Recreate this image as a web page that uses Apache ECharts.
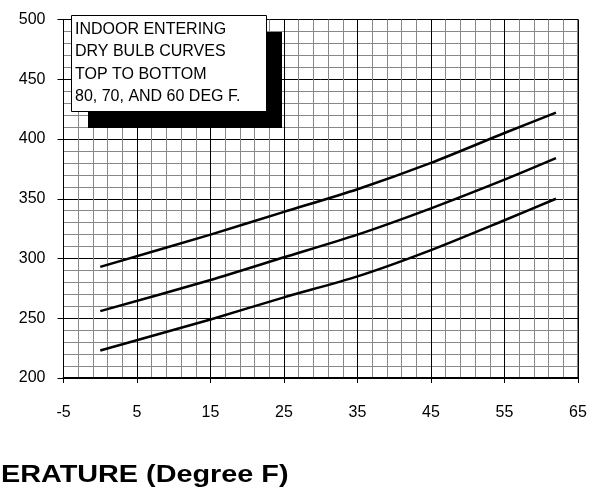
<!DOCTYPE html>
<html>
<head>
<meta charset="utf-8">
<script src="https://cdn.jsdelivr.net/npm/echarts@6/dist/echarts.min.js"></script>
<style>
  html, body { margin: 0; padding: 0; background: #fff; }
  #chart { width: 602px; height: 495px; }
</style>
</head>
<body>
<div id="chart"></div>
<script>
// outdoor temperature (deg F) at the read points
const tempF = [0, 15, 25, 35, 45, 55, 62]
// curves for indoor entering dry bulb 80 / 70 / 60 deg F
const db80 = [293, 320, 339, 358, 380, 405, 422]
const db70 = [256, 282, 301, 320, 342, 366, 384]
const db60 = [223, 249, 267.5, 285, 307, 332, 350]
const noteLines = ['INDOOR ENTERING', 'DRY BULB CURVES', 'TOP TO BOTTOM', '80, 70, AND 60 DEG F.']
const axisTitle = 'ERATURE (Degree F)'

const font = 'Liberation Sans, Arial, sans-serif'

function pairs(ys) {
    return tempF.map((x, i) => [x, ys[i]])
}

function curve(name, ys) {
    return {
        name: name,
        type: 'line',
        data: pairs(ys),
        smooth: 0.25,
        symbol: 'none',
        lineStyle: { color: '#000', width: 2.5 },
        z: 5
    }
}

const chart = echarts.init(document.getElementById('chart'))
chart.setOption({
    animation: false,
    backgroundColor: '#fff',
    grid: {
        left: 63.5, right: 24, top: 19.5, bottom: 117,
        show: true, borderColor: '#000', borderWidth: 1, backgroundColor: 'transparent'
    },
    xAxis: {
        type: 'value',
        min: -5, max: 65, interval: 10,
        axisLine: { onZero: false, lineStyle: { color: '#000', width: 2 } },
        axisTick: { show: true, length: 5, lineStyle: { color: '#000' } },
        axisLabel: { color: '#000', fontSize: 16, fontFamily: font, margin: 27 },
        splitLine: { show: true, lineStyle: { color: '#000', width: 1 } },
        minorTick: { show: false, splitNumber: 5 },
        minorSplitLine: { show: true, lineStyle: { color: '#888', width: 1 } }
    },
    yAxis: {
        type: 'value',
        min: 200, max: 500, interval: 50,
        axisLine: { show: true, onZero: false, lineStyle: { color: '#000', width: 1 } },
        axisTick: { show: true, length: 6, lineStyle: { color: '#000' } },
        axisLabel: { color: '#000', fontSize: 16, fontFamily: font, margin: 18 },
        splitLine: { show: true, lineStyle: { color: '#000', width: 1 } },
        minorTick: { show: false, splitNumber: 5 },
        minorSplitLine: { show: true, lineStyle: { color: '#888', width: 1 } }
    },
    series: [
        curve('80', db80),
        curve('70', db70),
        curve('60', db60)
    ],
    graphic: [
        { type: 'rect', shape: { x: 88, y: 32, width: 194, height: 96 }, style: { fill: '#000' }, z: 10 },
        { type: 'rect', shape: { x: 71.5, y: 15.5, width: 195, height: 96 }, style: { fill: '#fff', stroke: '#000', lineWidth: 1 }, z: 11 },
        {
            type: 'text', x: 75, y: 18, z: 12,
            style: { text: noteLines.join('\n'), fill: '#000', font: '16px ' + font, lineHeight: 22.5 }
        },
        {
            type: 'text', x: 1, y: 463, scaleX: 1.2, z: 12,
            style: { text: axisTitle, fill: '#000', font: 'bold 24px ' + font }
        }
    ]
})
</script>
</body>
</html>
